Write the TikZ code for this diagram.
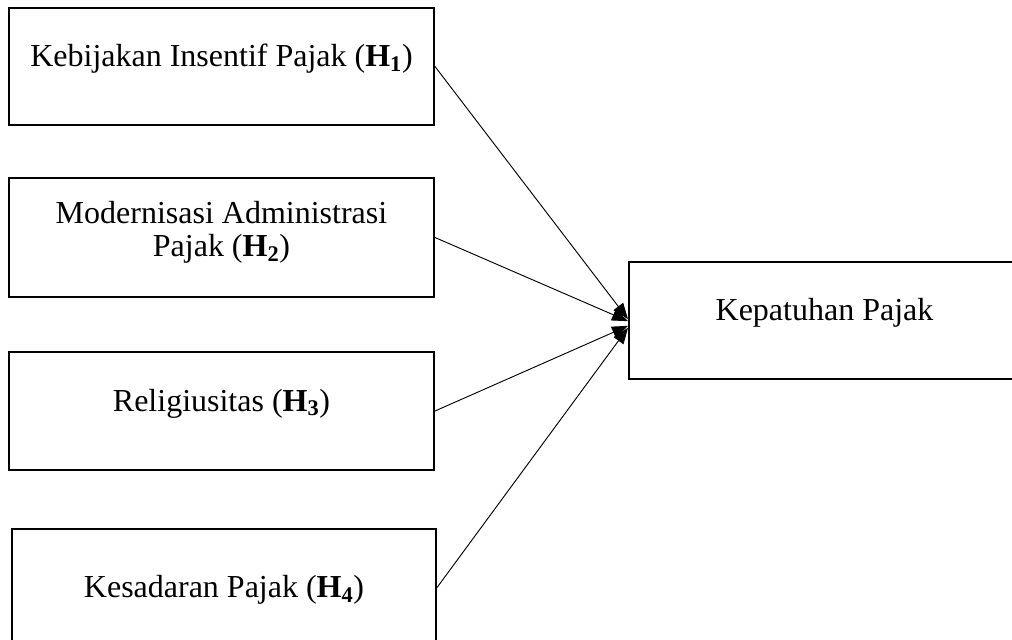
\documentclass[tikz,border=0pt]{standalone}
\usepackage{fontspec}
\setmainfont{Liberation Serif}
\usetikzlibrary{positioning,arrows.meta}

\tikzset{basic/.style={draw,line width=1.5pt,inner sep=0pt,minimum width=318.75pt,minimum height=87.75pt,font=\fontsize{24}{24.75}\selectfont,text height=0pt,text depth=0pt}}
\tikzset{varbox/.style={basic}}
\tikzset{lowtext/.style={basic,text height=15pt}}
\tikzset{link/.style={line width=0.7pt}}
\tikzset{>={Triangle[length=12pt,width=9pt]}}

\begin{document}
\begin{tikzpicture}[x=0.75pt,y=-0.75pt]
	\useasboundingbox (0,0) rectangle (1012,639);

	\node[varbox] (h1) at (221.5,66.5) {Kebijakan Insentif Pajak (\textbf{H\textsubscript{1}})};
	\node[varbox,below=38.25pt of h1,minimum height=89.25pt,align=center,text height=29.2pt] (h2) {Modernisasi Administrasi\\Pajak (\textbf{H\textsubscript{2}})};
	\node[varbox,below=39.75pt of h2,minimum height=88.5pt] (h3) {Religiusitas (\textbf{H\textsubscript{3}})};
	\node[lowtext,below=42.75pt of h3,xshift=1.9pt,minimum width=318pt] (h4) {Kesadaran Pajak (\textbf{H\textsubscript{4}})};
	\node[varbox,minimum width=293.25pt] (kp) at (824.5,320.5) {Kepatuhan Pajak};

	% pengaruh ke kepatuhan
	\path[draw,link,->] (h1.east) -- ([yshift=1pt]kp.west);
	\path[draw,link,->] (h2.east) -- ([yshift=-0.5pt]kp.west);
	\path[draw,link,->] (h3.east) -- ([yshift=-4pt]kp.west);
	\path[draw,link,->] (h4.east) -- ([yshift=-5.5pt]kp.west);

\end{tikzpicture}
\end{document}
